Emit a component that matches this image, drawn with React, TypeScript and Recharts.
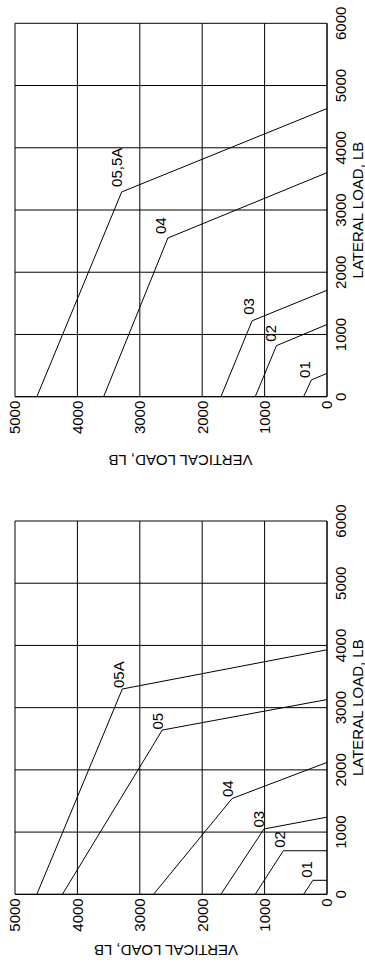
import React from 'react';
import { CartesianGrid, LabelList, Line, LineChart, XAxis, YAxis } from 'recharts';

// Two load-envelope charts, drawn upright and then turned a quarter turn
// counter-clockwise, like the scanned sheet.
// Each curve: lateral load (LB) -> vertical load (LB); the middle point is the knee.

const lateralTicks = [0, 1000, 2000, 3000, 4000, 5000, 6000];
const verticalTicks = [0, 1000, 2000, 3000, 4000, 5000];

// lower sheet (05 and 05A separate)
const lower01 = [{ lat: 0, vert: 375 }, { lat: 225, vert: 225 }, { lat: 225, vert: 0 }];
const lower02 = [{ lat: 0, vert: 1150 }, { lat: 700, vert: 700 }, { lat: 700, vert: 0 }];
const lower03 = [{ lat: 0, vert: 1700 }, { lat: 1050, vert: 1010 }, { lat: 1240, vert: 0 }];
const lower04 = [{ lat: 0, vert: 2780 }, { lat: 1540, vert: 1520 }, { lat: 2120, vert: 0 }];
const lower05 = [{ lat: 0, vert: 4240 }, { lat: 2640, vert: 2640 }, { lat: 3130, vert: 0 }];
const lower05A = [{ lat: 0, vert: 4650 }, { lat: 3300, vert: 3280 }, { lat: 3930, vert: 0 }];

// upper sheet (05 and 5A combined)
const upper01 = [{ lat: 0, vert: 375 }, { lat: 270, vert: 250 }, { lat: 375, vert: 0 }];
const upper02 = [{ lat: 0, vert: 1150 }, { lat: 820, vert: 810 }, { lat: 1160, vert: 0 }];
const upper03 = [{ lat: 0, vert: 1700 }, { lat: 1220, vert: 1200 }, { lat: 1710, vert: 0 }];
const upper04 = [{ lat: 0, vert: 3580 }, { lat: 2550, vert: 2550 }, { lat: 3600, vert: 0 }];
const upper055A = [{ lat: 0, vert: 4650 }, { lat: 3290, vert: 3290 }, { lat: 4630, vert: 0 }];

const FONT = '"Liberation Sans", Arial, sans-serif';
const INK = '#000';

type Pt = { lat: number; vert: number };
type Series = { name: string; data: Pt[]; dx: number; dy: number };

const lowerSeries: Series[] = [
  { name: '01', data: lower01, dx: 2.5, dy: -1 },
  { name: '02', data: lower02, dx: 3, dy: 1.5 },
  { name: '03', data: lower03, dx: 1.5, dy: 0 },
  { name: '04', data: lower04, dx: 1.5, dy: 1 },
  { name: '05', data: lower05, dx: 0.5, dy: 1 },
  { name: '05A', data: lower05A, dx: 1, dy: 1.5 },
];

const upperSeries: Series[] = [
  { name: '01', data: upper01, dx: 2, dy: -1 },
  { name: '02', data: upper02, dx: 4, dy: 0 },
  { name: '03', data: upper03, dx: 6, dy: 1.5 },
  { name: '04', data: upper04, dx: 4, dy: -2 },
  { name: '05,5A', data: upper055A, dx: 5, dy: 0.5 },
];

function LoadChart({
  series,
  width,
  axisWidth,
  marginRight,
  titleX,
  titleY,
}: {
  series: Series[];
  width: number;
  axisWidth: number;
  marginRight: number;
  titleX: number;
  titleY: number;
}) {
  const tickStyle = { fontSize: 15, fill: INK, fontFamily: FONT };
  return (
    <LineChart width={width} height={365} margin={{ top: 15, right: marginRight, bottom: 0, left: 0 }}>
      <CartesianGrid stroke={INK} strokeWidth={1} />
      <XAxis
        type="number"
        dataKey="lat"
        domain={[0, 6000]}
        ticks={lateralTicks}
        interval={0}
        height={38}
        tickLine={false}
        axisLine={{ stroke: INK }}
        tick={tickStyle}
        allowDataOverflow
        label={(p: any) => {
          const vb = p.viewBox || {};
          return (
            <text x={vb.x + vb.width / 2} y={vb.y + 35.5} textAnchor="middle" fontSize={15} fontFamily={FONT} fill={INK}>
              LATERAL LOAD, LB
            </text>
          );
        }}
      />
      <YAxis
        type="number"
        domain={[0, 5000]}
        ticks={verticalTicks}
        interval={0}
        width={axisWidth}
        tickLine={false}
        tickSize={4}
        tickMargin={0}
        axisLine={{ stroke: INK }}
        tick={tickStyle}
        allowDataOverflow
        label={(p: any) => {
          const vb = p.viewBox || {};
          const x = vb.x + titleX;
          const y = vb.y + titleY;
          return (
            <text x={x} y={y} transform={`rotate(-90, ${x}, ${y})`} textAnchor="middle" fontSize={15} fontFamily={FONT} fill={INK}>
              VERTICAL LOAD, LB
            </text>
          );
        }}
      />
      {series.map((s) => (
        <Line
          key={s.name}
          data={s.data}
          dataKey="vert"
          type="linear"
          stroke={INK}
          strokeWidth={1}
          dot={false}
          activeDot={false}
          isAnimationActive={false}
        >
          <LabelList
            dataKey="vert"
            content={(p: any) => {
              if (p.index !== 1) return null;
              const x = p.x ?? p.viewBox?.x;
              const y = p.y ?? p.viewBox?.y;
              return (
                <text x={x + s.dx} y={y + s.dy} fontSize={15} fontFamily={FONT} fill={INK}>
                  {s.name}
                </text>
              );
            }}
          />
        </Line>
      ))}
    </LineChart>
  );
}

export default function App() {
  return (
    <div style={{ position: 'fixed', left: 0, top: 0, width: 365, height: 963, overflow: 'hidden', background: '#fff' }}>
      <div
        style={{
          position: 'absolute',
          left: 0,
          top: 0,
          width: 963,
          height: 365,
          overflow: 'hidden',
          transformOrigin: '0 0',
          transform: 'translate(0px, 963px) rotate(-90deg)',
        }}
      >
        <div style={{ position: 'absolute', left: 0, top: 0 }}>
          <LoadChart series={lowerSeries} width={481} axisWidth={68.7} marginRight={39} titleX={18} titleY={151} />
        </div>
        <div style={{ position: 'absolute', left: 481, top: 0 }}>
          <LoadChart series={upperSeries} width={482} axisWidth={85.3} marginRight={23.3} titleX={27} titleY={165.5} />
        </div>
      </div>
    </div>
  );
}
